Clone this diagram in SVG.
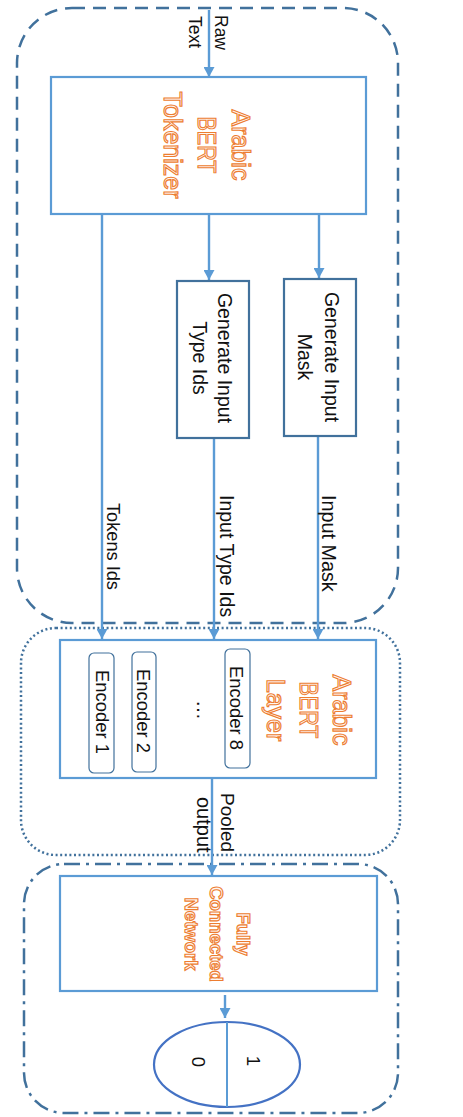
<svg xmlns="http://www.w3.org/2000/svg" width="463" height="1117" viewBox="0 0 463 1117">
<defs>
<marker id="arr" viewBox="0 0 10 11" refX="10" refY="5.5" markerWidth="10" markerHeight="11" markerUnits="userSpaceOnUse" orient="auto">
<path d="M0,0 L10,5.5 L0,11 z" fill="#5B9BD5"/>
</marker>
<style>
.grp{fill:none;stroke:#41719C;stroke-width:2.5}
.box{fill:#fff;stroke:#5B9BD5;stroke-width:2.2}
.gbox{fill:#fff;stroke:#41719C;stroke-width:2.2}
.enc{fill:#fff;stroke:#41719C;stroke-width:1.2}
.ln{fill:none;stroke:#5B9BD5;stroke-width:2.4}
.t{font-family:"Liberation Sans",Arial,sans-serif;fill:#111}
.o{font-family:"Liberation Sans",Arial,sans-serif;fill:#FFF6EF;stroke:#ED7D31;stroke-width:1.1}
</style>
</defs>
<rect width="463" height="1117" fill="#fff"/>
<g id="containers">
<rect class="grp" x="17" y="8" width="381" height="615" rx="55" ry="55" stroke-dasharray="13 8"/>
<rect class="grp" x="21" y="628" width="379" height="227" rx="35" ry="35" stroke-width="2.2" stroke-dasharray="2 2.6"/>
<rect class="grp" x="24" y="864" width="374" height="249" rx="40" ry="40" stroke-dasharray="16 6 3 6"/>
</g>
<g id="connectors">
<line class="ln" x1="209" y1="10" x2="209" y2="77" marker-end="url(#arr)"/>
<line class="ln" x1="102" y1="214" x2="102" y2="639" marker-end="url(#arr)"/>
<line class="ln" x1="209" y1="214" x2="209" y2="280" marker-end="url(#arr)"/>
<line class="ln" x1="319" y1="214" x2="319" y2="278" marker-end="url(#arr)"/>
<line class="ln" x1="214" y1="438" x2="214" y2="639" marker-end="url(#arr)"/>
<line class="ln" x1="318" y1="436" x2="318" y2="639" marker-end="url(#arr)"/>
<line class="ln" x1="212" y1="778" x2="212" y2="875" marker-end="url(#arr)"/>
<line class="ln" x1="225" y1="995" x2="225" y2="1018" marker-end="url(#arr)"/>
<g class="t" font-size="17.5"><g transform="translate(215,15) rotate(90)"><text x="0" y="0">Raw</text><text x="1" y="26">Text</text></g></g>
<text class="t" font-size="18.2" transform="translate(107,503) rotate(90)">Tokens Ids</text>
<text class="t" font-size="19.5" transform="translate(220,495) rotate(90)">Input Type Ids</text>
<text class="t" font-size="19.8" transform="translate(322,495) rotate(90)">Input Mask</text>
<text class="t" font-size="19" transform="translate(221,793) rotate(90)">Pooled</text>
<text class="t" font-size="20" transform="translate(197,797) rotate(90)">output</text>
</g>
<g id="tokenizer">
<rect class="box" x="51" y="77" width="315" height="137"/>
<g transform="translate(232,145) rotate(90)" font-size="25" text-anchor="middle">
<text class="o" x="0" y="0">Arabic</text>
<text class="o" x="0" y="34" textLength="57" lengthAdjust="spacingAndGlyphs">BERT</text>
<text class="o" x="0" y="68">Tokenizer</text>
</g>
</g>
<g id="gen-type-ids">
<rect class="gbox" x="177" y="281" width="72" height="157"/>
<g transform="translate(218,358) rotate(90)" font-size="19.5" text-anchor="middle">
<text class="t" x="0" y="0">Generate Input</text>
<text class="t" x="0" y="25">Type Ids</text>
</g>
</g>
<g id="gen-mask">
<rect class="gbox" x="284" y="279" width="72" height="157"/>
<g transform="translate(325,357) rotate(90)" font-size="19.5" text-anchor="middle">
<text class="t" x="0" y="0">Generate Input</text>
<text class="t" x="0" y="27">Mask</text>
</g>
</g>
<g id="bert-layer">
<rect class="box" x="60" y="640" width="316" height="138"/>
<g transform="translate(333,710) rotate(90)" font-size="25" text-anchor="middle">
<text class="o" x="0" y="0">Arabic</text>
<text class="o" x="0" y="33" textLength="57" lengthAdjust="spacingAndGlyphs">BERT</text>
<text class="o" x="0" y="66">Layer</text>
</g>
<rect class="enc" x="225" y="649" width="25" height="119" rx="5" ry="5"/>
<text class="t" font-size="18.4" text-anchor="middle" transform="translate(230,708) rotate(90)">Encoder 8</text>
<rect class="enc" x="132" y="652" width="24" height="120" rx="5" ry="5"/>
<text class="t" font-size="18.4" text-anchor="middle" transform="translate(137,711) rotate(90)">Encoder 2</text>
<rect class="enc" x="89" y="653" width="25" height="120" rx="5" ry="5"/>
<text class="t" font-size="18.4" text-anchor="middle" transform="translate(96,712) rotate(90)">Encoder 1</text>
<text class="t" font-size="20" text-anchor="middle" transform="translate(197,710) rotate(90)">…</text>
</g>
<g id="fcn">
<rect class="box" x="60" y="876" width="317" height="115"/>
<g transform="translate(237,934) rotate(90)" font-size="18.5" font-weight="bold" text-anchor="middle">
<text class="o" x="0" y="0">Fully</text>
<text class="o" x="0" y="27">Connected</text>
<text class="o" x="0" y="52">Network</text>
</g>
</g>
<g id="output">
<ellipse cx="227" cy="1064.5" rx="73" ry="42.5" fill="#fff" stroke="#4472C4" stroke-width="2.2"/>
<line x1="227" y1="1022" x2="227" y2="1107" stroke="#5B9BD5" stroke-width="2"/>
<text class="t" font-size="18.5" text-anchor="middle" transform="translate(247,1061) rotate(90)">1</text>
<text class="t" font-size="18.5" text-anchor="middle" transform="translate(192,1062) rotate(90)">0</text>
</g>
</svg>
